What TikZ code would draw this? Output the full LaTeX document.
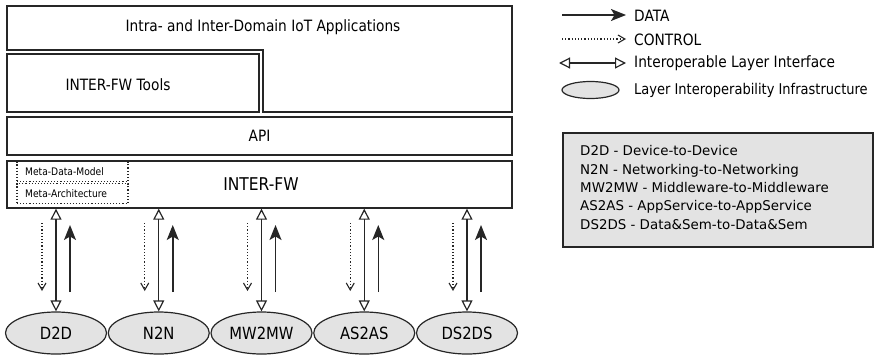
\documentclass[tikz,border=0pt]{standalone}
\usepackage{fontspec}
\setmainfont{DejaVu Sans}
\newfontfamily\condfont[FakeStretch=0.88]{DejaVu Sans}
\usetikzlibrary{arrows.meta,shapes.geometric}

\tikzset{
  frame/.style={draw=black!85, line width=1.4pt},
  box/.style={frame, fill=white, inner sep=0pt},
  label/.style={font=\condfont\fontsize{15.6}{18}\selectfont, inner sep=0pt},
  metabox/.style={draw=black!85, line width=1.1pt, dotted, inner sep=0pt,
    minimum width=111pt, minimum height=20pt},
  metatext/.style={font=\condfont\fontsize{10.4}{12}\selectfont, inner sep=0pt, anchor=west},
  layer/.style={ellipse, draw=black!85, line width=1.2pt, fill=black!11,
    minimum width=101pt, minimum height=42pt, inner sep=0pt,
    font=\condfont\fontsize{16.8}{19}\selectfont},
  iface/.style={line width=1.3pt, black!85,
    {Triangle[open,width=11pt,length=11pt,line width=1.2pt]}-{Triangle[open,width=11pt,length=11pt,line width=1.2pt]}},
  data/.style={line width=1.5pt, black!85, -{Stealth[width=12pt,length=15pt,inset=3.5pt]}},
  ctrl/.style={line width=1.2pt, black!85, dotted, -{Straight Barb[angle=60:8pt,line width=1.1pt]}},
}

\begin{document}
\begin{tikzpicture}[x=1pt,y=-1pt]
  \useasboundingbox (0,0) rectangle (877,356);

  % application layer: L-shaped outline around the tools box
  \draw[frame] (7,6) -- (512,6) -- (512,112) -- (263,112) -- (263,50) -- (7,50) -- cycle;
  \node[label] (apps) at (263,27) {Intra- and Inter-Domain IoT Applications};

  % framework tools
  \node[box, minimum width=252pt, minimum height=58pt] (tools) at (133,83) {};
  \node[label] (toolstext) at (118,85) {INTER-FW Tools};

  % API layer
  \node[box, minimum width=505pt, minimum height=38pt, label] (api) at (259.5,136) {API};

  % interoperability framework
  \node[box, minimum width=505pt, minimum height=47pt] (fw) at (259.5,184.5) {};
  \node[font=\condfont\fontsize{17.6}{20}\selectfont, inner sep=0pt] (fwtext) at (261,184) {INTER-FW};
  \node[metabox] (mdm) at (72.5,171.5) {};
  \node[metatext] at (25,171.5) {Meta-Data-Model};
  \node[metabox] (march) at (72.5,193.5) {};
  \node[metatext] at (25,194) {Meta-Architecture};

  % layer interoperability infrastructures
  \foreach \name/\txt [count=\i from 0] in {d2d/D2D, n2n/N2N, mw/MW2MW, as/AS2AS, ds/DS2DS} {
    \node[layer] (\name) at (56+102.75*\i, 333) {\txt};
    \draw[iface] (\name.north |- fw.south) -- (\name.north);
    \coordinate (\name-c1) at (42+102.75*\i, 223);
    \coordinate (\name-c2) at (42+102.75*\i, 291);
    \coordinate (\name-d1) at (70+102.75*\i, 292);
    \coordinate (\name-d2) at (70+102.75*\i, 225);
    \draw[ctrl] (\name-c1) -- (\name-c2);
    \draw[data] (\name-d1) -- (\name-d2);
  }

  % legend
  \coordinate (ld1) at (562,15);  \coordinate (ld2) at (626,15);
  \coordinate (lc1) at (562,39);  \coordinate (lc2) at (626,39);
  \coordinate (li1) at (559,63);  \coordinate (li2) at (626,63);
  \draw[data] (ld1) -- (ld2);
  \draw[ctrl] (lc1) -- (lc2);
  \draw[iface] (li1) -- (li2);
  \node[label, anchor=west] (ldata) at (634,15.5) {DATA};
  \node[label, anchor=west] (lctrl) at (634,39.5) {CONTROL};
  \node[label, anchor=west] (liface) at (634,63.5) {Interoperable Layer Interface};
  \node[ellipse, draw=black!85, line width=1.2pt, fill=black!11,
    minimum width=57pt, minimum height=17pt, inner sep=0pt] (lell) at (590.5,90) {};
  \node[label, anchor=west, font=\condfont\fontsize{14.8}{18}\selectfont] (linfra) at (634,90.5) {Layer Interoperability Infrastructure};

  \node[frame, fill=black!11, minimum width=310pt, minimum height=114pt, inner sep=0pt] (abbr) at (718,190) {};
  \node[anchor=north west, align=left, inner sep=0pt,
    font=\fontsize{13.4}{18.3}\selectfont] (abbrtext) at (580,145.5)
    {D2D - Device-to-Device\\
     N2N - Networking-to-Networking\\
     MW2MW - Middleware-to-Middleware\\
     AS2AS - AppService-to-AppService\\
     DS2DS - Data\&Sem-to-Data\&Sem};
\end{tikzpicture}
\end{document}
